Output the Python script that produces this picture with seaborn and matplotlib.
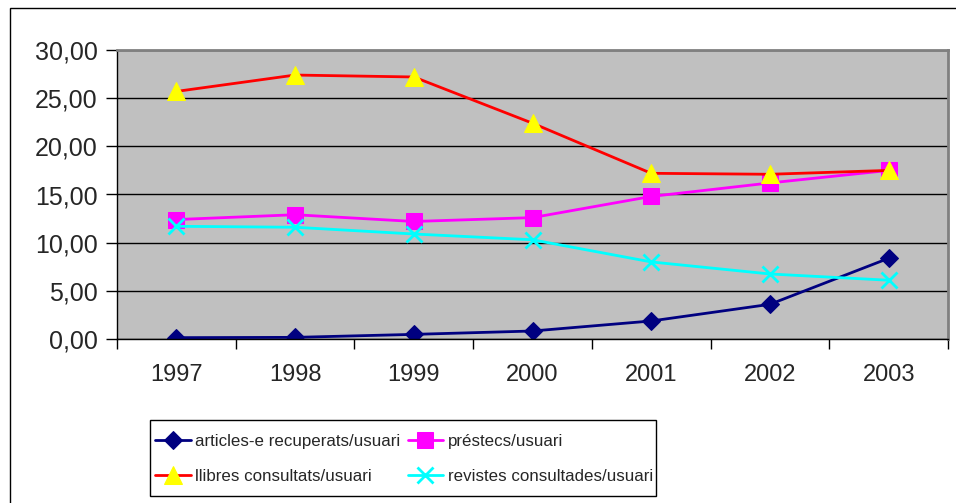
import numpy as np
import pandas as pd
import seaborn as sns
from matplotlib import pyplot as plt
from matplotlib.ticker import FixedLocator, FuncFormatter

years = ['1997', '1998', '1999', '2000', '2001', '2002', '2003']
articles = [0.14, 0.17, 0.48, 0.83, 1.87, 3.60, 8.38]
prestecs = [12.4, 12.9, 12.2, 12.6, 14.8, 16.2, 17.5]
llibres = [25.7, 27.4, 27.2, 22.4, 17.2, 17.1, 17.5]
revistes = [11.7, 11.6, 10.9, 10.3, 8.0, 6.75, 6.1]

noms = ['articles-e recuperats/usuari', 'préstecs/usuari',
        'llibres consultats/usuari', 'revistes consultades/usuari']

sns.set_style('white')
plt.rcParams['font.family'] = ['Liberation Sans', 'DejaVu Sans']

W, H = 956, 503
fig = plt.figure(figsize=(W/100, H/100), dpi=100)
ax = fig.add_axes([117/W, (H-339)/H, (948-117)/W, (339-50)/H])
ax.set_facecolor('#C0C0C0')

x = np.arange(len(years))

# línies en ordre de dibuix
series = [
    (articles, noms[0], dict(color='#000080', marker='D', markersize=9.5,
                             markerfacecolor='#000080', markeredgecolor='#000080')),
    (prestecs, noms[1], dict(color='#FF00FF', marker='s', markersize=11,
                             markerfacecolor='#FF00FF', markeredgecolor='#FF00FF')),
    (llibres, noms[2], dict(color='#FF0000', marker='^', markersize=12.5,
                            markerfacecolor='#FFFF00', markeredgecolor='#FFFF00')),
    (revistes, noms[3], dict(color='#00FFFF', marker='x', markersize=11,
                             markeredgewidth=2, markeredgecolor='#00FFFF')),
]
handles = {}
for vals, nom, st in series:
    sns.lineplot(x=x, y=vals, ax=ax, linewidth=2, label=nom, legend=False, **st)
    handles[nom] = ax.get_lines()[-1]

ax.set_xlim(-0.5, len(years) - 0.5)
ax.set_ylim(0, 30)
ax.set_yticks(np.arange(0, 31, 5))
ax.yaxis.set_major_formatter(FuncFormatter(lambda v, p: f'{v:.2f}'.replace('.', ',')))
ax.yaxis.grid(True, color='black', linewidth=1)
ax.set_axisbelow(True)

ax.xaxis.set_major_locator(FixedLocator(np.arange(-0.5, len(years), 1.0)))
ax.xaxis.set_minor_locator(FixedLocator(x))
ax.set_xticklabels([])
ax.set_xticklabels(years, minor=True)
ax.tick_params(axis='x', which='major', direction='out', length=7, width=1, color='black', bottom=True)
ax.tick_params(axis='x', which='minor', length=0, pad=18, labelsize=17)
ax.tick_params(axis='y', direction='out', length=8, width=1, color='black', left=True, labelsize=18, pad=6)

for s in ['left', 'bottom']:
    ax.spines[s].set_color('black')
    ax.spines[s].set_linewidth(1)
for s in ['top', 'right']:
    ax.spines[s].set_color('#808080')
    ax.spines[s].set_linewidth(2)

# llegenda sense marc; el marc es dibuixa a part
ordre = [noms[0], noms[2], noms[1], noms[3]]
leg = fig.legend([handles[n] for n in ordre], ordre, ncol=2,
                 loc='upper left', bbox_to_anchor=(155/W, 1 - 434/H),
                 bbox_transform=fig.transFigure, frameon=False, fontsize=12.2,
                 borderpad=0, handlelength=2.1, handletextpad=0.25,
                 columnspacing=0.45, labelspacing=1.16, borderaxespad=0)

fig.patches.append(plt.Rectangle((150/W, 1 - 496/H), (656-150)/W, 76/H,
                                 transform=fig.transFigure, fill=False,
                                 edgecolor='black', linewidth=1))

# marc exterior del gràfic
fig.patches.append(plt.Rectangle((10/W, -0.1), 1.1, 1 - 8/H + 0.1,
                                 transform=fig.transFigure, fill=False,
                                 edgecolor='black', linewidth=1))

fig.savefig('out.png', dpi=100)
